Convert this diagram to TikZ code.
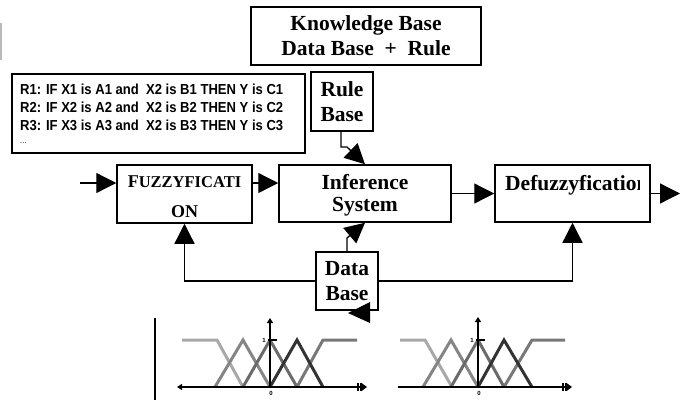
\documentclass[tikz,border=0pt]{standalone}
\usepackage{fontspec}
\setmainfont{Liberation Serif}
\newfontfamily\rulesfont[FakeStretch=0.9]{Liberation Sans}
\newfontfamily\labelfont{Liberation Sans}
\usetikzlibrary{arrows.meta}
\definecolor{mfA}{gray}{0.66}
\definecolor{mfB}{gray}{0.52}
\definecolor{mfC}{gray}{0.42}
\definecolor{mfD}{gray}{0.20}
\definecolor{mfE}{gray}{0.47}
\begin{document}
\begin{tikzpicture}[x=1pt,y=-1pt,
  box/.style={draw=black, line width=1.5pt, inner sep=0pt, align=center},
  serifbig/.style={font=\bfseries\fontsize{21.5}{25}\selectfont},
  conn/.style={draw=black, line width=1.3pt},
  arr/.style={conn, -{Triangle[length=20pt,width=20pt]}},
  ruletext/.style={anchor=base west, inner sep=0pt, font=\rulesfont\bfseries\fontsize{14.5}{16}\selectfont},
  axisl/.style={draw=black, line width=1.5pt},
  smalltip/.style={-{Triangle[length=5pt,width=6pt]}},
  bartip/.style={-{Bar[width=8pt,line width=1.5pt,sep=1.5pt]Bar[width=8pt,line width=1.5pt,sep=0.5pt]Triangle[length=5pt,width=7pt]}},
  mf/.style={line width=3pt, line join=miter},
  axlabel/.style={inner sep=0pt, font=\labelfont\bfseries\fontsize{6}{6}\selectfont}
]
\useasboundingbox (0,0) rectangle (686,400);

% faint mark at the left edge
\draw[draw=gray!55, line width=2pt] (1,23) -- (1,60);

% boxes
\node[box, serifbig, minimum width=230pt, minimum height=58pt] (kb) at (366,36)
  {Knowledge Base\\Data Base~ +~ Rule};
\node[box, minimum width=293pt, minimum height=79pt] (rules) at (158.5,113.5) {};
\node[ruletext] (r1) at (20,94) {R1: IF X1 is A1 and~ X2 is B1 THEN Y is C1};
\node[ruletext] (r2) at (20,112) {R2: IF X2 is A2 and~ X2 is B2 THEN Y is C2};
\node[ruletext] (r3) at (20,130) {R3: IF X3 is A3 and~ X2 is B3 THEN Y is C3};
\node[anchor=base west, inner sep=0pt, font=\labelfont\fontsize{7.5}{8}\selectfont] (r4) at (20,143) {...};

\node[box, serifbig, minimum width=62pt, minimum height=59pt] (rb) at (342,101.5) {Rule\\Base};

\node[box, minimum width=135pt, minimum height=58pt, font=\bfseries\fontsize{18}{30}\selectfont] (fuzz) at (184.5,194)
  {\rule{0pt}{18pt}F{\fontsize{16.5}{16.5}\selectfont UZZYFICATI}\\ON};

\node[box, minimum width=172pt, minimum height=57pt, font=\bfseries\fontsize{21.5}{22.5}\selectfont] (inf) at (365,193.5)
  {\rule{0pt}{18.7pt}Inference\\System};

\node[box, minimum width=155pt, minimum height=57pt] (defuz) at (572.5,193.5) {};
\begin{scope}
  \clip (495,165) rectangle (639,222);
  \node[anchor=base west, inner sep=0pt, serifbig] (defuztext) at (505,190) {Defuzzyfication};
\end{scope}

\node[box, minimum width=62pt, minimum height=58pt, font=\bfseries\fontsize{21.5}{24.4}\selectfont] (db) at (347,281) {Data\\Base};

% connectors
\coordinate (inA) at (80,183);
\coordinate (outA) at (680,193.5);
\draw[arr] (inA) -- (fuzz.west |- inA);
\draw[arr] (fuzz.east |- inA) -- (inf.west |- inA);
\draw[arr] (inf.east) -- (defuz.west);
\draw[arr] (defuz.east) -- (outA);
\draw[arr] (db.west) -| (fuzz.south);
\draw[arr] (db.east) -| (defuz.south);

\coordinate (rbk) at (341,147);
\coordinate (infn) at (365,165);
\draw[arr] (rb.south -| rbk) -- (rbk) -- ++(6,0) -- (inf.north -| infn);

\coordinate (dbk) at (347,238);
\coordinate (infs) at (365,222);
\draw[arr] (db.north -| dbk) -- (dbk) -- (inf.south -| infs);

\fill[black] (370,302) -- (370,323) -- (348,313) -- cycle;

% left membership chart
\draw[axisl] (155,318) -- (155,400);
\draw[mf, mfA] (182,340) -- (217,340) -- (243,387);
\draw[mf, mfB] (215,387) -- (243,340) -- (270,387);
\draw[mf, mfC] (243,387) -- (270,340) -- (297,387);
\draw[mf, mfE] (297,387) -- (323,340) -- (357,340);
\draw[mf, mfD] (270,387) -- (297,340) -- (323,387);
\draw[axisl, {Triangle[length=5pt,width=6pt]}-{Bar[width=8pt,line width=1.5pt,sep=1.5pt]Bar[width=8pt,line width=1.5pt,sep=0.5pt]Triangle[length=5pt,width=7pt]}] (177,387) -- (367,387);
\draw[axisl, smalltip] (270,387) -- (270,318);
\draw[line width=2pt] (268,340) -- (277,340);
\node[axlabel] (one1) at (264,340) {1};
\node[axlabel] (zero1) at (271,393) {0};

% right membership chart
\draw[mf, mfA] (400,340) -- (425,340) -- (452,387);
\draw[mf, mfB] (423,387) -- (451,340) -- (478,387);
\draw[mf, mfC] (451,387) -- (478,340) -- (504,387);
\draw[mf, mfE] (504,387) -- (532,340) -- (565,340);
\draw[mf, mfD] (478,387) -- (504,340) -- (532,387);
\draw[axisl, bartip] (398,387) -- (572,387);
\draw[axisl, smalltip] (478,387) -- (478,317);
\draw[line width=2pt] (476,340) -- (485,340);
\node[axlabel] (one2) at (472,340) {1};
\node[axlabel] (zero2) at (479,393) {0};
\end{tikzpicture}
\end{document}
